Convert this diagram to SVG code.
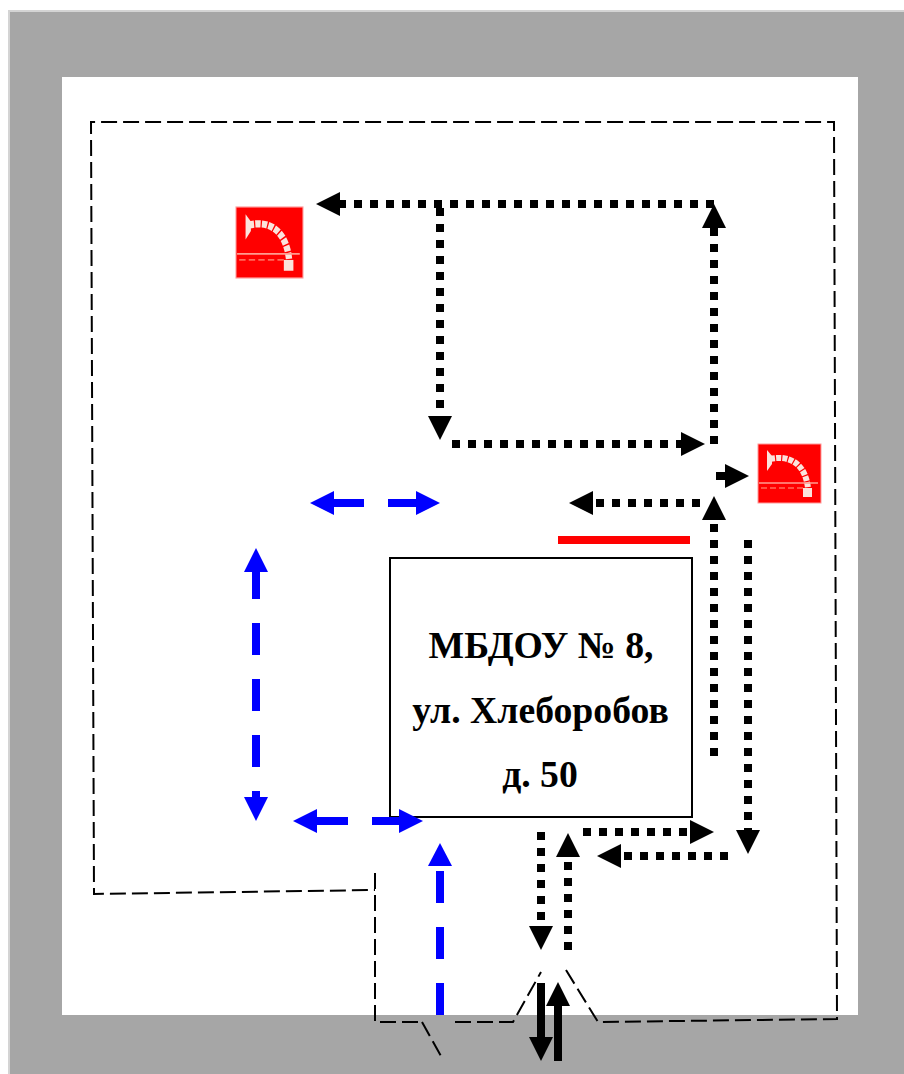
<svg xmlns="http://www.w3.org/2000/svg" width="904" height="1074" viewBox="0 0 904 1074">
<style>
.b{fill:none;stroke:#000;stroke-width:8;stroke-dasharray:8 8;marker-end:url(#hk)}
.s{fill:none;stroke:#000;stroke-width:8;marker-end:url(#hk)}
.u{fill:none;stroke:#00f;stroke-width:8;marker-end:url(#hb)}
.l{fill:none;stroke:#00f;stroke-width:8}
.d{fill:none;stroke:#000;stroke-width:2;stroke-dasharray:16 6}
.t{font-family:"Liberation Serif","Times New Roman",serif;font-weight:bold;font-size:37.7px;text-anchor:middle;fill:#000}
.hose{fill:none;stroke:#fbe3dc;stroke-width:6;stroke-dasharray:5 1.2}
</style>
<defs>
<filter id="soft" x="-5%" y="-5%" width="110%" height="110%"><feGaussianBlur stdDeviation="0.6"/></filter>
<marker id="hk" viewBox="0 0 24 24" refX="0" refY="12" markerWidth="24" markerHeight="24" markerUnits="userSpaceOnUse" orient="auto"><path d="M0 0L24 12L0 24Z" fill="#000"/></marker>
<marker id="hb" viewBox="0 0 24 24" refX="0" refY="12" markerWidth="24" markerHeight="24" markerUnits="userSpaceOnUse" orient="auto"><path d="M0 0L24 12L0 24Z" fill="#00f"/></marker>
<g id="icon">
<rect x="0" y="0" width="63" height="59" fill="#f00" stroke="#ff9a9a" stroke-width="1"/>
<g filter="url(#soft)">
<path class="hose" d="M12 15C30 11 47 18 50 44"/>
<path d="M9 6L14 12L14 20L9 27Z" fill="#fbe3dc"/>
<rect x="45" y="44" width="9" height="9" fill="#fbe3dc"/>
<path d="M1 39H60" stroke="#ff9c90" stroke-width="1.5"/>
<path d="M3 44H46" stroke="#ff6a5a" stroke-width="1.5" stroke-dasharray="6 3"/>
</g>
</g>
</defs>
<rect x="0" y="0" width="904" height="1074" fill="#fff"/>
<rect x="8" y="10" width="896" height="1064" fill="#d4d4d4"/>
<rect x="10" y="12" width="894" height="1062" fill="#a6a6a6"/>
<rect x="62" y="77" width="796" height="938" fill="#fff"/>
<g id="fence">
<path class="d" d="M375 873V1022H422M455 1022H513L541 972M566 970L598 1022L837 1019L834 122H91L94 894L375 890"/>
<path class="d" d="M422 1022L441 1056"/>
</g>
<g id="building">
<rect x="390" y="558" width="302" height="259" fill="#fff" stroke="#000" stroke-width="2"/>
<text class="t" x="541" y="658">МБДОУ № 8,</text>
<text class="t" x="540.500" y="723">ул. Хлеборобов</text>
<text class="t" x="540" y="787">д. 50</text>
</g>
<g id="barrier"><rect x="558" y="536" width="132" height="8" fill="#f00"/></g>
<g id="hydrant-1"><use href="#icon" transform="translate(236 207) scale(1.063 1.203)"/></g>
<g id="hydrant-2"><use href="#icon" transform="translate(758 444)"/></g>
<g id="connectors">
<path class="b" d="M714 204H340"/>
<path class="b" d="M714 444V228"/>
<path class="b" d="M440 208V416"/>
<path class="b" d="M452 444H681"/>
<path class="s" d="M716 476H725"/>
<path class="b" d="M700 503H593"/>
<path class="b" d="M714 756V520"/>
<path class="b" d="M748 540V830"/>
<path class="b" d="M728 856H621"/>
<path class="b" d="M583 832H690"/>
<path class="b" d="M568 950V857"/>
<path class="b" d="M541 832V926"/>
<path class="s" d="M541 983V1037"/>
<path class="s" d="M558 1061V1006"/>
<path class="u" d="M364 503H334"/>
<path class="u" d="M388 503H416"/>
<path class="u" d="M348 821H317"/>
<path class="u" d="M372 821H399"/>
<path class="l" d="M440 1015V983M440 959V927M440 903V871"/>
<path d="M428 866L440 843L452 866Z" fill="#00f"/>
<path class="u" d="M256 599V572"/>
<path class="u" d="M256 791V797"/>
<path class="l" d="M256 623V655M256 679V711M256 735V767"/>
</g>
</svg>
